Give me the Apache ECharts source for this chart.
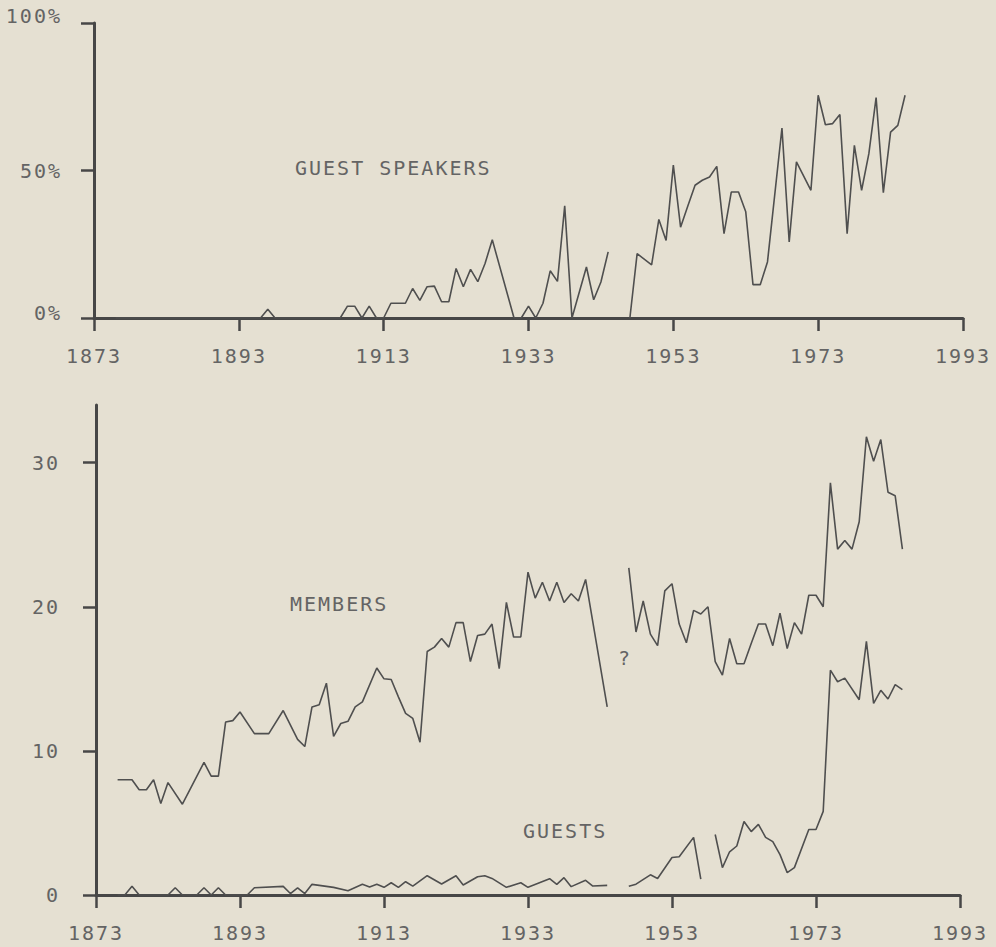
<!DOCTYPE html>
<html>
<head>
<meta charset="utf-8">
<script src="https://cdn.jsdelivr.net/npm/echarts@6/dist/echarts.min.js"></script>
<style>
  html, body { margin: 0; padding: 0; background: #e5e0d2; }
  #chart { width: 996px; height: 947px; }
  #chart text { letter-spacing: 2px; }
</style>
</head>
<body>
<div id="chart"></div>
<script>
// tick labels
const yearTicks = [1873, 1893, 1913, 1933, 1953, 1973, 1993]
const shareTicks = [0, 50, 100]
const countTicks = [0, 10, 20, 30]

// top panel: share of guest speakers (%), null = no data
const speakerYears = [1876, 1896, 1897, 1898, 1907, 1908, 1909, 1910, 1911, 1912,
  1913, 1914, 1916, 1917, 1918, 1919, 1920, 1921, 1922, 1923, 1924, 1925, 1926, 1927, 1928,
  1931, 1932, 1933, 1934, 1935, 1936, 1937, 1938, 1939, 1941, 1942, 1943, 1944, 1945,
  1947, 1948, 1950, 1951, 1952, 1953, 1954, 1955, 1956, 1957, 1958, 1959, 1960, 1961, 1962,
  1963, 1964, 1965, 1966, 1968, 1969, 1970, 1972, 1973, 1974, 1975, 1976, 1977, 1978, 1979,
  1980, 1981, 1982, 1983, 1984, 1985]
const speakerShare = [0, 0, 3, 0, 0, 4, 4, 0, 4, 0,
  0, 5, 5, 10, 6, 10.6, 10.8, 5.5, 5.5, 16.8, 10.6, 16.5, 12.3, 18.5, 26.5,
  0, 0, 4, 0, 5, 16, 12.4, 38, 0, 17.3, 6.2, 12.2, 22.4, null,
  0, 21.8, 18, 33.4, 26.3, 51.8, 30.8, 38, 45, 46.7, 47.8, 51.4, 28.6, 42.7, 42.7,
  36, 11.3, 11.3, 19, 64.4, 25.8, 52.9, 43.3, 75.5, 65.5, 65.9, 69, 28.6, 58.5, 43.3,
  55.7, 74.7, 42.5, 63, 65.3, 75.5]

// bottom panel: members per year
const memberYears = [1876, 1877, 1878, 1879, 1880, 1881, 1882, 1883, 1885, 1888, 1889, 1890,
  1891, 1892, 1893, 1895, 1897, 1899, 1901, 1902, 1903, 1904, 1905, 1906, 1907, 1908, 1909,
  1910, 1912, 1913, 1914, 1915, 1916, 1917, 1918, 1919, 1920, 1921, 1922, 1923, 1924, 1925,
  1926, 1927, 1928, 1929, 1930, 1931, 1932, 1933, 1934, 1935, 1936, 1937, 1938, 1939, 1940,
  1941, 1944, 1945,
  1947, 1948, 1949, 1950, 1951, 1952, 1953, 1954, 1955, 1956, 1957, 1958, 1959, 1960, 1961,
  1962, 1963, 1964, 1965, 1966, 1967, 1968, 1969, 1970, 1971, 1972, 1973, 1974, 1975, 1976,
  1977, 1978, 1979, 1980, 1981, 1982, 1983, 1984, 1985]
const memberCounts = [8, 8, 8, 7.3, 7.3, 8, 6.35, 7.8, 6.3, 9.2, 8.25, 8.25,
  12, 12.1, 12.7, 11.2, 11.2, 12.8, 10.8, 10.3, 13.05, 13.2, 14.7, 11, 11.9, 12.05, 13.05,
  13.4, 15.75, 15, 14.95, 13.75, 12.6, 12.25, 10.6, 16.9, 17.2, 17.8, 17.2, 18.9, 18.9, 16.2,
  18, 18.1, 18.8, 15.7, 20.3, 17.9, 17.9, 22.4, 20.6, 21.7, 20.4, 21.7, 20.3, 20.9, 20.4,
  21.9, 13.05, null,
  22.7, 18.25, 20.4, 18.1, 17.3, 21.1, 21.6, 18.8, 17.5, 19.75, 19.5, 20, 16.2, 15.25, 17.8,
  16.05, 16.05, 17.45, 18.8, 18.8, 17.3, 19.55, 17.1, 18.9, 18.1, 20.8, 20.8, 20, 28.6, 24,
  24.6, 24, 25.9, 31.8, 30.1, 31.6, 27.95, 27.7, 24]

// bottom panel: guests per year
const guestYears = [1876, 1877, 1878, 1879, 1883, 1884, 1885, 1887, 1888, 1889, 1890, 1891,
  1894, 1895, 1899, 1900, 1901, 1902, 1903, 1906, 1908, 1910, 1911, 1912, 1913, 1914, 1915,
  1916, 1917, 1919, 1921, 1923, 1924, 1926, 1927, 1928, 1930, 1932, 1933, 1936, 1937, 1938,
  1939, 1941, 1942, 1944, 1945,
  1947, 1948, 1950, 1951, 1953, 1954, 1956, 1957, 1958,
  1959, 1960, 1961, 1962, 1963, 1964, 1965, 1966, 1967, 1968, 1969, 1970, 1972, 1973, 1974,
  1975, 1976, 1977, 1979, 1980, 1981, 1982, 1983, 1984, 1985]
const guestCounts = [0, 0, 0.6, 0, 0, 0.5, 0, 0, 0.5, 0, 0.5, 0,
  0, 0.5, 0.6, 0.1, 0.5, 0.1, 0.74, 0.53, 0.3, 0.74, 0.55, 0.74, 0.53, 0.85, 0.53,
  0.92, 0.62, 1.34, 0.76, 1.34, 0.69, 1.27, 1.34, 1.15, 0.53, 0.85, 0.53, 1.13, 0.74, 1.2,
  0.58, 1.02, 0.62, 0.67, null,
  0.6, 0.75, 1.4, 1.15, 2.6, 2.65, 4, 1.1, null,
  4.2, 1.9, 3, 3.4, 5.1, 4.4, 4.9, 4, 3.7, 2.8, 1.55, 1.9, 4.55, 4.55, 5.8,
  15.6, 14.8, 15.05, 13.55, 17.6, 13.3, 14.2, 13.6, 14.6, 14.25]

const ink = '#474747'
const textColor = '#646464'
const font = 'DejaVu Sans Mono'

const pairs = (xs, ys) => xs.map((x, i) => [x, ys[i]])

const xAxisBase = {
  type: 'value',
  min: 1873,
  max: 1993,
  splitLine: { show: false },
  axisLine: { show: true, lineStyle: { color: ink, width: 3 } },
  axisTick: { show: true, customValues: yearTicks, length: 13, lineStyle: { color: ink, width: 2.5 } },
  axisLabel: {
    customValues: yearTicks, margin: 28, color: textColor, fontFamily: font, fontSize: 20,
    formatter: v => String(v)
  }
}

const lineBase = {
  type: 'line',
  showSymbol: false,
  connectNulls: false,
  silent: true,
  lineStyle: { color: '#4f4f4f', width: 1.6 }
}

const chart = echarts.init(document.getElementById('chart'), null, { renderer: 'svg' })
chart.setOption({
  backgroundColor: '#e5e0d2',
  animation: false,
  grid: [
    { left: 94, top: 23, width: 869, height: 295 },
    { left: 96, top: 405, width: 864, height: 490 }
  ],
  xAxis: [
    { ...xAxisBase, gridIndex: 0 },
    { ...xAxisBase, gridIndex: 1 }
  ],
  yAxis: [
    {
      gridIndex: 0,
      type: 'value',
      min: 0,
      max: 100,
      splitLine: { show: false },
      axisLine: { show: true, lineStyle: { color: ink, width: 3 } },
      axisTick: { show: true, customValues: shareTicks, length: 13, lineStyle: { color: ink, width: 2.5 } },
      axisLabel: {
        customValues: shareTicks, margin: 32, color: textColor, fontFamily: font, fontSize: 20,
        formatter: v => v === 100 ? '{up|100%}' : v === 0 ? '{low|0%}' : v + '%',
        rich: {
          up: { padding: [0, 0, 14, 0], color: textColor, fontFamily: font, fontSize: 20 },
          low: { padding: [0, 0, 10, 0], color: textColor, fontFamily: font, fontSize: 20 }
        }
      }
    },
    {
      gridIndex: 1,
      type: 'value',
      min: 0,
      max: 34,
      splitLine: { show: false },
      axisLine: { show: true, lineStyle: { color: ink, width: 3 } },
      axisTick: { show: true, customValues: countTicks, length: 13, lineStyle: { color: ink, width: 2.5 } },
      axisLabel: { customValues: countTicks, margin: 36, color: textColor, fontFamily: font, fontSize: 20 }
    }
  ],
  graphic: [
    { type: 'text', x: 295, y: 168, style: { text: 'GUEST SPEAKERS', font: '20px "DejaVu Sans Mono"', fill: textColor, verticalAlign: 'middle' } },
    { type: 'text', x: 290, y: 604, style: { text: 'MEMBERS', font: '20px "DejaVu Sans Mono"', fill: textColor, verticalAlign: 'middle' } },
    { type: 'text', x: 618, y: 658, style: { text: '?', font: '20px "DejaVu Sans Mono"', fill: textColor, verticalAlign: 'middle' } },
    { type: 'text', x: 523, y: 831, style: { text: 'GUESTS', font: '20px "DejaVu Sans Mono"', fill: textColor, verticalAlign: 'middle' } }
  ],
  series: [
    { ...lineBase, name: 'Guest speakers', xAxisIndex: 0, yAxisIndex: 0, data: pairs(speakerYears, speakerShare) },
    { ...lineBase, name: 'Members', xAxisIndex: 1, yAxisIndex: 1, data: pairs(memberYears, memberCounts) },
    { ...lineBase, name: 'Guests', xAxisIndex: 1, yAxisIndex: 1, data: pairs(guestYears, guestCounts) }
  ]
})
</script>
</body>
</html>
